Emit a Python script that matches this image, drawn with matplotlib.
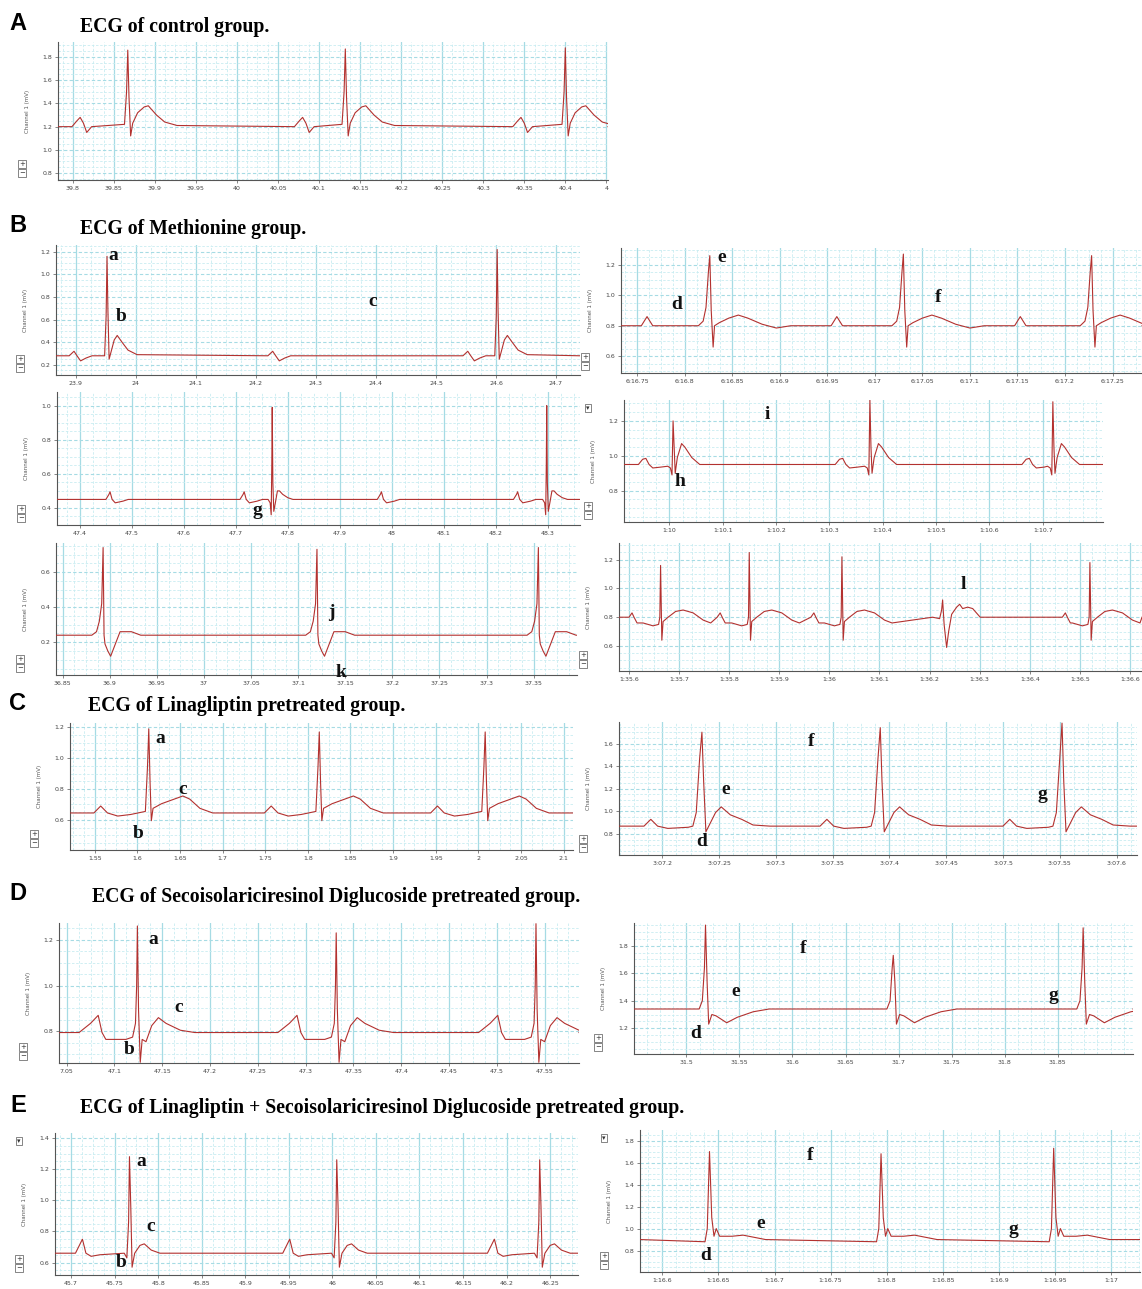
import matplotlib.pyplot as plt
from matplotlib.ticker import AutoMinorLocator

W, H = 1142, 1289
ECG_RED = "#b3312f"
SERIF = "Liberation Serif"
SANS = "Liberation Sans"

# ---------------- data ----------------
# A - control
a_xlim = (39.782, 40.452)
a_ylim = (0.74, 1.93)
a_xticks = [39.8, 39.85, 39.9, 39.95, 40.0, 40.05, 40.1, 40.15, 40.2, 40.25, 40.3, 40.35, 40.4, 40.45]
a_xlabels = ["39.8", "39.85", "39.9", "39.95", "40", "40.05", "40.1", "40.15", "40.2", "40.25", "40.3", "40.35", "40.4", "4"]
a_yticks = [0.8, 1.0, 1.2, 1.4, 1.6, 1.8]
a_base = 1.2
a_beats = [39.867, 40.132, 40.4]
a_peaks = [1.86, 1.87, 1.88]
a_qrs = [(-0.004, 0.02), (-0.0015, 0.3), (0, None), (0.0015, 0.25), (0.0035, -0.08), (0.006, 0.03),
         (0.012, 0.12), (0.02, 0.17), (0.025, 0.18), (0.035, 0.1), (0.045, 0.04), (0.06, 0.01)]
a_pwaves = [39.809, 40.08, 40.346]
a_p = [(-0.01, 0.0), (-0.004, 0.05), (0, 0.08), (0.004, 0.03), (0.008, -0.05), (0.014, 0.0)]

# B1 - methionine (a, b, c)
b1_xlim = (23.867, 24.74)
b1_ylim = (0.11, 1.26)
b1_xticks = [23.9, 24.0, 24.1, 24.2, 24.3, 24.4, 24.5, 24.6, 24.7]
b1_xlabels = ["23.9", "24", "24.1", "24.2", "24.3", "24.4", "24.5", "24.6", "24.7"]
b1_yticks = [0.2, 0.4, 0.6, 0.8, 1.0, 1.2]
b1_base = 0.28
b1_beats = [23.952, 24.602]
b1_peaks = [1.16, 1.22]
b1_qrs = [(-0.004, 0.0), (-0.0015, 0.35), (0, None), (0.0015, 0.4), (0.0035, -0.03), (0.007, 0.04),
          (0.012, 0.14), (0.017, 0.18), (0.025, 0.12), (0.035, 0.05), (0.05, 0.01)]
b1_pwaves = [23.897, 24.228, 24.553]
b1_p = [(-0.008, 0.0), (0, 0.04), (0.005, 0.0), (0.011, -0.045), (0.02, -0.02), (0.03, 0.0)]
b1_notes = [("a", 23.963, 1.17), ("b", 23.976, 0.63), ("c", 24.394, 0.76)]

# B2 - methionine (d, e, f)
b2_xlim = (16.733, 17.281)
b2_ylim = (0.49, 1.31)
b2_xticks = [16.75, 16.8, 16.85, 16.9, 16.95, 17.0, 17.05, 17.1, 17.15, 17.2, 17.25]
b2_xlabels = ["6:16.75", "6:16.8", "6:16.85", "6:16.9", "6:16.95", "6:17", "6:17.05", "6:17.1",
              "6:17.15", "6:17.2", "6:17.25"]
b2_yticks = [0.6, 0.8, 1.0, 1.2]
b2_base = 0.8
b2_beats = [16.8264, 17.030, 17.228]
b2_peaks = [1.26, 1.27, 1.26]
b2_qrs = [(-0.012, 0.0), (-0.007, 0.03), (-0.004, 0.12), (-0.0015, 0.35), (0, None), (0.0015, 0.1),
          (0.0035, -0.14), (0.005, 0.0), (0.01, 0.02), (0.02, 0.05), (0.03, 0.07), (0.04, 0.05),
          (0.055, 0.01), (0.07, -0.015), (0.085, 0.0)]
b2_pwaves = [16.7604, 16.960, 17.153]
b2_p = [(-0.006, 0.0), (0, 0.06), (0.006, 0.0)]
b2_notes = [("d", 16.792, 0.94), ("e", 16.839, 1.25), ("f", 17.067, 0.985)]

# B3 - methionine (g)
b3_xlim = (47.356, 48.362)
b3_ylim = (0.30, 1.08)
b3_xticks = [47.4, 47.5, 47.6, 47.7, 47.8, 47.9, 48.0, 48.1, 48.2, 48.3]
b3_xlabels = ["47.4", "47.5", "47.6", "47.7", "47.8", "47.9", "48", "48.1", "48.2", "48.3"]
b3_yticks = [0.4, 0.6, 0.8, 1.0]
b3_base = 0.45
b3_beats = [47.77, 48.298]
b3_peaks = [0.99, 1.0]
b3_qrs = [(-0.008, 0.0), (-0.004, -0.02), (-0.002, -0.09), (-0.0008, 0.21), (0, None), (0.0012, 0.1),
          (0.003, -0.07), (0.006, -0.02), (0.01, 0.05), (0.014, 0.05), (0.02, 0.03), (0.03, 0.01), (0.04, 0.0)]
b3_pwaves = [47.458, 47.716, 47.98, 48.242]
b3_p = [(-0.008, 0.0), (-0.002, 0.03), (0, 0.045), (0.004, 0.0), (0.01, -0.02), (0.025, -0.01), (0.035, 0.0)]
b3_notes = [("g", 47.741, 0.385)]

# B4 - methionine (h, i)
b4_xlim = (9.915, 10.813)
b4_ylim = (0.62, 1.32)
b4_xticks = [10.0, 10.1, 10.2, 10.3, 10.4, 10.5, 10.6, 10.7]
b4_xlabels = ["1:10", "1:10.1", "1:10.2", "1:10.3", "1:10.4", "1:10.5", "1:10.6", "1:10.7"]
b4_yticks = [0.8, 1.0, 1.2]
b4_base = 0.95
b4_beats = [10.007, 10.376, 10.719]
b4_peaks = [1.2, 1.32, 1.31]
b4_qrs = [(-0.01, -0.01), (-0.005, -0.02), (-0.002, -0.06), (0, None), (0.002, 0.1), (0.004, -0.05),
          (0.008, 0.04), (0.016, 0.12), (0.022, 0.1), (0.035, 0.04), (0.05, 0.0)]
b4_pwaves = [9.954, 10.323, 10.673]
b4_p = [(-0.012, 0.0), (-0.004, 0.03), (0.002, 0.035), (0.008, 0.0), (0.015, -0.02), (0.03, -0.015)]
b4_notes = [("h", 10.019, 0.85), ("i", 10.184, 1.235)]

# B5 - methionine (j, k)
b5_xlim = (36.843, 37.396)
b5_ylim = (0.013, 0.766)
b5_xticks = [36.85, 36.9, 36.95, 37.0, 37.05, 37.1, 37.15, 37.2, 37.25, 37.3, 37.35]
b5_xlabels = ["36.85", "36.9", "36.95", "37", "37.05", "37.1", "37.15", "37.2", "37.25", "37.3", "37.35"]
b5_yticks = [0.2, 0.4, 0.6]
b5_base = 0.24
b5_beats = [36.893, 37.12, 37.355]
b5_peaks = [0.74, 0.73, 0.74]
b5_qrs = [(-0.012, 0.0), (-0.007, 0.02), (-0.004, 0.08), (-0.0015, 0.18), (0, None), (0.001, 0.0),
          (0.002, -0.05), (0.005, -0.09), (0.008, -0.12), (0.013, -0.05), (0.018, 0.02), (0.03, 0.02), (0.04, 0.0)]
b5_notes = [("j", 37.135, 0.37), ("k", 37.146, 0.03)]

# B6 - methionine (l)
b6_xlim = (35.580, 36.624)
b6_ylim = (0.426, 1.316)
b6_xticks = [35.6, 35.7, 35.8, 35.9, 36.0, 36.1, 36.2, 36.3, 36.4, 36.5, 36.6]
b6_xlabels = ["1:35.6", "1:35.7", "1:35.8", "1:35.9", "1:36", "1:36.1", "1:36.2", "1:36.3", "1:36.4",
              "1:36.5", "1:36.6"]
b6_yticks = [0.6, 0.8, 1.0, 1.2]
b6_base = 0.8
b6_beats = [35.663, 35.840, 36.025, 36.52]
b6_peaks = [1.16, 1.25, 1.22, 1.18]
b6_qrs = [(-0.035, -0.04), (-0.015, -0.06), (-0.004, -0.05), (-0.0015, 0.0), (0, None), (0.0025, -0.16),
          (0.005, -0.03), (0.015, 0.0), (0.03, 0.04), (0.045, 0.05), (0.065, 0.03), (0.085, -0.02), (0.1, -0.04)]
b6_pwaves = [35.606, 35.782, 35.969, 36.471]
b6_p = [(-0.006, 0.0), (0, 0.03), (0.004, 0.0), (0.01, -0.04)]
b6_pvc = [36.226]
b6_pvc_shape = [(-0.02, 0.0), (-0.006, -0.01), (-0.002, 0.05), (0, 0.12), (0.003, -0.05), (0.008, -0.21),
                (0.012, -0.1), (0.018, 0.02), (0.028, 0.07), (0.034, 0.09), (0.04, 0.06), (0.05, 0.07),
                (0.06, 0.06), (0.075, 0.0)]
b6_notes = [("l", 36.267, 1.03)]

# C1 - linagliptin (a, b, c)
c1_xlim = (1.521, 2.111)
c1_ylim = (0.405, 1.228)
c1_xticks = [1.55, 1.6, 1.65, 1.7, 1.75, 1.8, 1.85, 1.9, 1.95, 2.0, 2.05, 2.1]
c1_xlabels = ["1.55", "1.6", "1.65", "1.7", "1.75", "1.8", "1.85", "1.9", "1.95", "2", "2.05", "2.1"]
c1_yticks = [0.6, 0.8, 1.0, 1.2]
c1_base = 0.645
c1_beats = [1.6134, 1.8134, 2.008]
c1_peaks = [1.19, 1.17, 1.17]
c1_qrs = [(-0.004, 0.01), (-0.0015, 0.3), (0, None), (0.0015, 0.2), (0.003, -0.05), (0.005, 0.03),
          (0.015, 0.06), (0.03, 0.09), (0.04, 0.11), (0.048, 0.09), (0.06, 0.03), (0.075, 0.0)]
c1_pwaves = [1.557, 1.757, 1.952]
c1_p = [(-0.008, 0.0), (0, 0.045), (0.008, 0.0), (0.02, -0.02), (0.035, -0.01)]
c1_notes = [("a", 1.627, 1.13), ("b", 1.601, 0.51), ("c", 1.653, 0.8)]

# C2 - linagliptin (d, e, f, g)
c2_xlim = (7.162, 7.618)
c2_ylim = (0.615, 1.79)
c2_xticks = [7.2, 7.25, 7.3, 7.35, 7.4, 7.45, 7.5, 7.55, 7.6]
c2_xlabels = ["3:07.2", "3:07.25", "3:07.3", "3:07.35", "3:07.4", "3:07.45", "3:07.5", "3:07.55", "3:07.6"]
c2_yticks = [0.8, 1.0, 1.2, 1.4, 1.6]
c2_base = 0.87
c2_beats = [7.235, 7.392, 7.552]
c2_peaks = [1.7, 1.74, 1.78]
c2_qrs = [(-0.012, -0.01), (-0.008, 0.0), (-0.005, 0.12), (-0.002, 0.6), (0, None), (0.0015, 0.4),
          (0.0035, -0.05), (0.006, 0.0), (0.012, 0.12), (0.017, 0.17), (0.025, 0.1), (0.035, 0.06),
          (0.045, 0.01), (0.06, 0.0)]
c2_pwaves = [7.19, 7.345, 7.506]
c2_p = [(-0.006, 0.0), (0, 0.06), (0.006, 0.0), (0.015, -0.02)]
c2_notes = [("d", 7.235, 0.73), ("e", 7.256, 1.19), ("f", 7.331, 1.62), ("g", 7.535, 1.15)]

# D1 - SDG (a, b, c)
d1_xlim = (47.042, 47.586)
d1_ylim = (0.662, 1.273)
d1_xticks = [47.05, 47.1, 47.15, 47.2, 47.25, 47.3, 47.35, 47.4, 47.45, 47.5, 47.55]
d1_xlabels = ["7.05", "47.1", "47.15", "47.2", "47.25", "47.3", "47.35", "47.4", "47.45", "47.5", "47.55"]
d1_yticks = [0.8, 1.0, 1.2]
d1_base = 0.795
d1_beats = [47.124, 47.332, 47.541]
d1_peaks = [1.26, 1.23, 1.27]
d1_qrs = [(-0.012, -0.03), (-0.005, -0.02), (-0.002, 0.04), (-0.0008, 0.2), (0, None), (0.0012, 0.1),
          (0.003, -0.13), (0.005, -0.03), (0.009, -0.04), (0.015, 0.03), (0.022, 0.065), (0.03, 0.04),
          (0.045, 0.01), (0.06, 0.0)]
d1_pwaves = [47.083, 47.291, 47.501]
d1_p = [(-0.02, 0.0), (-0.008, 0.04), (0, 0.075), (0.004, 0.0), (0.008, -0.03), (0.02, -0.03)]
d1_notes = [("a", 47.141, 1.2), ("b", 47.115, 0.72), ("c", 47.167, 0.906)]

# D2 - SDG (d, e, f, g)
d2_xlim = (31.4506, 31.921)
d2_ylim = (1.013, 1.965)
d2_xticks = [31.5, 31.55, 31.6, 31.65, 31.7, 31.75, 31.8, 31.85]
d2_xlabels = ["31.5", "31.55", "31.6", "31.65", "31.7", "31.75", "31.8", "31.85"]
d2_yticks = [1.2, 1.4, 1.6, 1.8]
d2_base = 1.34
d2_beats = [31.518, 31.695, 31.874]
d2_peaks = [1.95, 1.73, 1.93]
d2_qrs = [(-0.006, 0.0), (-0.003, 0.06), (-0.001, 0.3), (0, None), (0.0015, 0.2), (0.003, -0.11),
          (0.006, -0.04), (0.01, -0.05), (0.02, -0.1), (0.03, -0.06), (0.045, -0.02), (0.06, 0.0)]
d2_notes = [("d", 31.509, 1.16), ("e", 31.546, 1.47), ("f", 31.610, 1.78), ("g", 31.846, 1.44)]

# E1 - linagliptin + SDG (a, b, c)
e1_xlim = (45.6815, 46.282)
e1_ylim = (0.52, 1.432)
e1_xticks = [45.7, 45.75, 45.8, 45.85, 45.9, 45.95, 46.0, 46.05, 46.1, 46.15, 46.2, 46.25]
e1_xlabels = ["45.7", "45.75", "45.8", "45.85", "45.9", "45.95", "46", "46.05", "46.1", "46.15", "46.2", "46.25"]
e1_yticks = [0.6, 0.8, 1.0, 1.2, 1.4]
e1_base = 0.66
e1_beats = [45.767, 46.005, 46.238]
e1_peaks = [1.28, 1.26, 1.26]
e1_qrs = [(-0.006, 0.0), (-0.003, -0.03), (-0.001, 0.2), (0, None), (0.0015, 0.3), (0.003, -0.09),
          (0.006, 0.0), (0.012, 0.05), (0.017, 0.06), (0.025, 0.02), (0.035, 0.0)]
e1_pwaves = [45.713, 45.951, 46.186]
e1_p = [(-0.008, 0.0), (0, 0.09), (0.004, 0.0), (0.01, -0.02), (0.02, -0.01)]
e1_notes = [("a", 45.781, 1.25), ("b", 45.757, 0.6), ("c", 45.791, 0.83)]

# E2 - linagliptin + SDG (d, e, f, g)
e2_xlim = (16.580, 17.026)
e2_ylim = (0.605, 1.896)
e2_xticks = [16.6, 16.65, 16.7, 16.75, 16.8, 16.85, 16.9, 16.95, 17.0]
e2_xlabels = ["1:16.6", "1:16.65", "1:16.7", "1:16.75", "1:16.8", "1:16.85", "1:16.9", "1:16.95", "1:17"]
e2_yticks = [0.8, 1.0, 1.2, 1.4, 1.6, 1.8]
e2_base = 0.9
e2_beats = [16.642, 16.795, 16.949]
e2_peaks = [1.7, 1.68, 1.73]
e2_qrs = [(-0.004, -0.02), (-0.002, 0.1), (0, None), (0.002, 0.2), (0.004, 0.03), (0.006, 0.1),
          (0.009, 0.03), (0.02, 0.03), (0.03, 0.04), (0.04, 0.02), (0.05, 0.0)]
e2_notes = [("d", 16.639, 0.755), ("e", 16.688, 1.05), ("f", 16.732, 1.66), ("g", 16.913, 0.99)]

# section titles
titles = [
    ("A", 27, "ECG of control group.", 80, 14.2),
    ("B", 229, "ECG of Methionine group.", 80, 14.2),
    ("C", 706, "ECG of Linagliptin pretreated group.", 88, 14.2),
    ("D", 897, "ECG of Secoisolariciresinol Diglucoside pretreated group.", 92, 14.2),
    ("E", 1108, "ECG of Linagliptin + Secoisolariciresinol Diglucoside pretreated group.", 80, 14.2),
]

fig = plt.figure(figsize=(W / 100, H / 100), dpi=100)
fig.patch.set_facecolor("white")


def build_trace(xlim, base, groups):
    pts = []
    for times, shape, peaks in groups:
        for i, t in enumerate(times):
            for dt, dv in shape:
                v = peaks[i] if dv is None else base + dv
                pts.append((t + dt, v))
    pts.sort()
    xs = [xlim[0]] + [p[0] for p in pts] + [xlim[1]]
    ys = [base] + [p[1] for p in pts] + [base]
    return xs, ys


def widget_box(x, y, s):
    fig.text(x / W, 1 - y / H, s, fontsize=5, ha="center", va="center", color="#333",
             bbox=dict(boxstyle="square,pad=0.12", fc="white", ec="#555", lw=0.5))


def ecg_panel(box, xlim, ylim, xticks, xlabels, yticks, base, groups, notes=(), top_box=False):
    x0, y0, x1, y1 = box
    ax = fig.add_axes([x0 / W, 1 - y1 / H, (x1 - x0) / W, (y1 - y0) / H])
    xs, ys = build_trace(xlim, base, groups)
    ax.plot(xs, ys, color=ECG_RED, lw=0.8, zorder=3)
    ax.set_xlim(xlim)
    ax.set_ylim(ylim)
    ax.set_xticks(xticks, xlabels)
    ax.set_yticks(yticks, [f"{v:.1f}" for v in yticks])
    ax.xaxis.set_minor_locator(AutoMinorLocator(4))
    ax.yaxis.set_minor_locator(AutoMinorLocator(4))
    ax.grid(which="major", axis="x", color="#a6dbe4", lw=0.9, ls="-")
    ax.grid(which="major", axis="y", color="#a6dbe4", lw=0.8, ls=(0, (3, 2)))
    ax.grid(which="minor", color="#c9ecf1", lw=0.6, ls=(0, (3, 2)))
    ax.set_axisbelow(True)
    for side in ("top", "right"):
        ax.spines[side].set_visible(False)
    for side in ("left", "bottom"):
        ax.spines[side].set_color("#555")
        ax.spines[side].set_linewidth(0.8)
    ax.tick_params(which="major", length=2, width=0.5, color="#555", labelsize=4.5,
                   labelcolor="#444", pad=2)
    ax.tick_params(which="minor", length=0)
    ax.set_ylabel("Channel 1 (mV)", fontsize=4, color="#555", labelpad=9)
    for s, x, y in notes:
        ax.text(x, y, s, fontsize=14, fontweight="bold", family=SERIF, ha="center", va="center",
                color="#111", zorder=4)
    widget_box(x0 - 36, y1 - 16, "+")
    widget_box(x0 - 36, y1 - 7, "\u2212")
    if top_box:
        widget_box(x0 - 36, y0 + 8, "\u25be")
    return ax


for letter, ty, text, tx, fs in titles:
    fig.text(18 / W, 1 - (ty - 3) / H, letter, fontsize=17, fontweight="bold", family=SANS,
             ha="center", va="center")
    fig.text(tx / W, 1 - ty / H, text, fontsize=fs, fontweight="bold", family=SERIF,
             ha="left", va="center")

ecg_panel((58, 42, 608, 180), a_xlim, a_ylim, a_xticks, a_xlabels, a_yticks, a_base,
          [(a_beats, a_qrs, a_peaks), (a_pwaves, a_p, None)])

ecg_panel((56, 245, 580, 375), b1_xlim, b1_ylim, b1_xticks, b1_xlabels, b1_yticks, b1_base,
          [(b1_beats, b1_qrs, b1_peaks), (b1_pwaves, b1_p, None)], b1_notes)
ecg_panel((621, 248, 1142, 373), b2_xlim, b2_ylim, b2_xticks, b2_xlabels, b2_yticks, b2_base,
          [(b2_beats, b2_qrs, b2_peaks), (b2_pwaves, b2_p, None)], b2_notes)
ecg_panel((57, 392, 580, 525), b3_xlim, b3_ylim, b3_xticks, b3_xlabels, b3_yticks, b3_base,
          [(b3_beats, b3_qrs, b3_peaks), (b3_pwaves, b3_p, None)], b3_notes)
ecg_panel((624, 400, 1103, 522), b4_xlim, b4_ylim, b4_xticks, b4_xlabels, b4_yticks, b4_base,
          [(b4_beats, b4_qrs, b4_peaks), (b4_pwaves, b4_p, None)], b4_notes, top_box=True)
ecg_panel((56, 543, 577, 675), b5_xlim, b5_ylim, b5_xticks, b5_xlabels, b5_yticks, b5_base,
          [(b5_beats, b5_qrs, b5_peaks)], b5_notes)
ecg_panel((619, 543, 1142, 671), b6_xlim, b6_ylim, b6_xticks, b6_xlabels, b6_yticks, b6_base,
          [(b6_beats, b6_qrs, b6_peaks), (b6_pwaves, b6_p, None), (b6_pvc, b6_pvc_shape, None)], b6_notes)

ecg_panel((70, 723, 573, 850), c1_xlim, c1_ylim, c1_xticks, c1_xlabels, c1_yticks, c1_base,
          [(c1_beats, c1_qrs, c1_peaks), (c1_pwaves, c1_p, None)], c1_notes)
ecg_panel((619, 722, 1137, 855), c2_xlim, c2_ylim, c2_xticks, c2_xlabels, c2_yticks, c2_base,
          [(c2_beats, c2_qrs, c2_peaks), (c2_pwaves, c2_p, None)], c2_notes)

ecg_panel((59, 923, 579, 1063), d1_xlim, d1_ylim, d1_xticks, d1_xlabels, d1_yticks, d1_base,
          [(d1_beats, d1_qrs, d1_peaks), (d1_pwaves, d1_p, None)], d1_notes)
ecg_panel((634, 923, 1133, 1054), d2_xlim, d2_ylim, d2_xticks, d2_xlabels, d2_yticks, d2_base,
          [(d2_beats, d2_qrs, d2_peaks)], d2_notes)

ecg_panel((55, 1133, 578, 1275), e1_xlim, e1_ylim, e1_xticks, e1_xlabels, e1_yticks, e1_base,
          [(e1_beats, e1_qrs, e1_peaks), (e1_pwaves, e1_p, None)], e1_notes, top_box=True)
ecg_panel((640, 1130, 1140, 1272), e2_xlim, e2_ylim, e2_xticks, e2_xlabels, e2_yticks, e2_base,
          [(e2_beats, e2_qrs, e2_peaks)], e2_notes, top_box=True)

fig.savefig("out.png", dpi=100)
